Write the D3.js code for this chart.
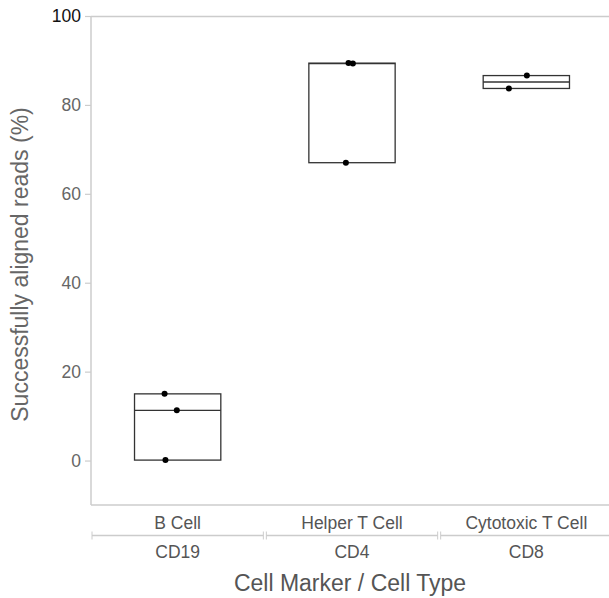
<!DOCTYPE html>
<html><head><meta charset="utf-8">
<script src="https://cdn.jsdelivr.net/npm/d3@7"></script>
<style>body{margin:0;background:#fff}svg{display:block}</style>
</head><body>
<svg id="c" width="609" height="598"></svg>
<script>
const markers = ["CD19", "CD4", "CD8"];
const cellTypes = ["B Cell", "Helper T Cell", "Cytotoxic T Cell"];
const values = [
  [15.0, 11.3, 0.1],
  [89.4, 89.3, 67.0],
  [86.6, 83.7]
];
const jitter = [
  [-0.075, -0.005, -0.07],
  [-0.02, 0.005, -0.035],
  [0.003, -0.1]
];
const yTicks = [0, 20, 40, 60, 80, 100];

(function () {
const svg = d3.select("#c");
const font = "Liberation Sans, Arial, sans-serif";
const pLeft = 91, pTop = 16, pBottom = 505, pRight = 609;

const y = d3.scaleLinear().domain([-10, 100]).range([pBottom, pTop]);
const x = d3.scaleBand().domain(markers).range([pLeft - 0.5, pRight + 4.5]);

svg.append("line").attr("x1", pLeft).attr("x2", pRight).attr("y1", pTop + 0.5).attr("y2", pTop + 0.5)
  .attr("stroke", "#ccc").attr("stroke-width", 1.5);
svg.append("line").attr("x1", pLeft).attr("x2", pRight).attr("y1", pBottom).attr("y2", pBottom)
  .attr("stroke", "#ccc").attr("stroke-width", 1.5);

const yAxis = d3.axisLeft(y).tickValues(yTicks).tickSize(6).tickPadding(4);
const gy = svg.append("g").attr("transform", `translate(${pLeft},0)`).call(yAxis);
gy.select(".domain").attr("stroke", "#ccc").attr("stroke-width", 1.5).attr("d", `M0,${pTop}V${pBottom}`);
gy.selectAll(".tick line").attr("stroke", "#ccc").attr("stroke-width", 1.2);
gy.selectAll(".tick text").attr("font-family", font).attr("font-size", 17.5)
  .attr("fill", d => d === 100 ? "#111" : "#666");

svg.append("text").attr("transform", `translate(28,${(pTop + pBottom) / 2 + 4}) rotate(-90)`)
  .attr("text-anchor", "middle").attr("font-family", font).attr("font-size", 23)
  .attr("fill", "#666").text("Successfully aligned reads (%)");

markers.forEach((m, i) => {
  const vals = values[i].slice().sort(d3.ascending);
  const mn = d3.min(vals), mx = d3.max(vals), med = d3.median(vals);
  const cx = x(m) + x.bandwidth() / 2;
  const w = x.bandwidth() * 0.495;
  const g = svg.append("g");
  g.append("rect").attr("x", cx - w / 2).attr("y", y(mx)).attr("width", w)
    .attr("height", y(mn) - y(mx)).attr("fill", "none").attr("stroke", "#333").attr("stroke-width", 1.3);
  g.append("line").attr("x1", cx - w / 2).attr("x2", cx + w / 2).attr("y1", y(med)).attr("y2", y(med))
    .attr("stroke", "#333").attr("stroke-width", 1.3);
  values[i].forEach((v, j) => {
    g.append("circle").attr("cx", cx + jitter[i][j] * x.bandwidth()).attr("cy", y(v))
      .attr("r", 3).attr("fill", "#000");
  });
});

const bY = 535.5;
markers.forEach((m, i) => {
  const x0 = x(m), x1 = x(m) + x.bandwidth();
  const a = Math.max(x0 + 1.5, pLeft + 1), b = Math.min(x1 - 1.5, pRight);
  svg.append("line").attr("x1", a).attr("x2", b).attr("y1", bY).attr("y2", bY)
    .attr("stroke", "#ccc").attr("stroke-width", 1.5);
  svg.append("line").attr("x1", a).attr("x2", a).attr("y1", bY - 4).attr("y2", bY + 4)
    .attr("stroke", "#ccc").attr("stroke-width", 1);
  if (b < pRight) svg.append("line").attr("x1", b).attr("x2", b).attr("y1", bY - 4).attr("y2", bY + 4)
    .attr("stroke", "#ccc").attr("stroke-width", 1);
  const cx = (x0 + x1) / 2;
  svg.append("text").attr("x", cx).attr("y", 529).attr("text-anchor", "middle")
    .attr("font-family", font).attr("font-size", 17.5).attr("fill", "#555").text(cellTypes[i]);
  svg.append("text").attr("x", cx).attr("y", 558).attr("text-anchor", "middle")
    .attr("font-family", font).attr("font-size", 17.5).attr("fill", "#555").text(m);
});

svg.append("text").attr("x", (pLeft + pRight) / 2).attr("y", 591).attr("text-anchor", "middle")
  .attr("font-family", font).attr("font-size", 23).attr("fill", "#555").text("Cell Marker / Cell Type");
})();
</script>
</body></html>
